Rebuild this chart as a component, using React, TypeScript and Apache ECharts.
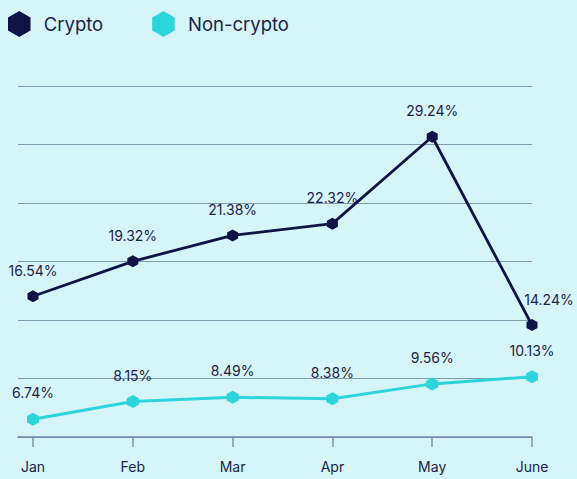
import React, { useEffect, useRef } from "react";
import * as echarts from "echarts";

const months = ["Jan", "Feb", "Mar", "Apr", "May", "June"];
const crypto = [16.54, 19.32, 21.38, 22.32, 29.24, 14.24];
const nonCrypto = [6.74, 8.15, 8.49, 8.38, 9.56, 10.13];
const seriesNames = ["Crypto", "Non-crypto"];

const HEX = "path://M0,-1 L0.866,-0.5 L0.866,0.5 L0,1 L-0.866,0.5 L-0.866,-0.5 Z";
const NAVY = "#0f1346";
const CYAN = "#2cd5dc";
const TEXT = "#1b1f4b";
const FONT = "Inter, Roboto, sans-serif";

export default function App() {
  const ref = useRef<HTMLDivElement>(null);
  useEffect(() => {
    if (!ref.current) return;
    const chart = echarts.init(ref.current, null, { renderer: "svg" });
    const last = months.length - 1;
    const mkData = (arr: number[], shiftLast: boolean) =>
      arr.map((v, i) =>
        shiftLast && i === last ? { value: v, label: { offset: [17, 0] } } : v
      );
    const labelCfg = {
      show: true,
      position: "top",
      distance: 13,
      color: TEXT,
      fontFamily: FONT,
      fontSize: 14,
      formatter: (p: any) => p.value.toFixed(2) + "%",
    };
    chart.setOption({
      animation: false,
      backgroundColor: "#d5f5f8",
      textStyle: { fontFamily: FONT },
      legend: {
        left: 3,
        top: 6,
        itemWidth: 23,
        itemHeight: 26,
        itemGap: 49,
        data: [
          { name: seriesNames[0], icon: HEX, itemStyle: { color: NAVY } },
          { name: seriesNames[1], icon: HEX, itemStyle: { color: CYAN } },
        ],
        textStyle: {
          color: TEXT,
          fontSize: 18.5,
          fontFamily: FONT,
          padding: [0, 0, 0, 8],
        },
      },
      grid: [
        { left: 18, right: 45, top: 86, bottom: 42 },
        { left: 33, right: 45, top: 86, bottom: 42 },
      ],
      xAxis: [
        {
          gridIndex: 0,
          type: "value",
          min: 0,
          max: 1,
          axisLine: { show: true, lineStyle: { color: "#7785a4", width: 1.5 } },
          axisTick: { show: false },
          axisLabel: { show: false },
          splitLine: { show: false },
        },
        {
          gridIndex: 1,
          type: "category",
          data: months,
          boundaryGap: false,
          axisLine: { show: false },
          axisTick: {
            show: true,
            length: 10,
            lineStyle: { color: "#8592ad", width: 1.5 },
          },
          axisLabel: {
            color: TEXT,
            fontSize: 14,
            fontFamily: FONT,
            margin: 22,
          },
          splitLine: { show: false },
        },
      ],
      yAxis: [
        {
          gridIndex: 0,
          type: "value",
          min: 0,
          max: 6,
          interval: 1,
          axisLine: { show: false },
          axisTick: { show: false },
          axisLabel: { show: false },
          splitLine: { show: true, lineStyle: { color: "#7e9cae", width: 1.2 } },
        },
        {
          gridIndex: 1,
          type: "value",
          min: 5.33,
          max: 33.28,
          show: false,
          splitLine: { show: false },
        },
      ],
      series: [
        {
          name: seriesNames[0],
          type: "line",
          xAxisIndex: 1,
          yAxisIndex: 1,
          data: mkData(crypto, true),
          symbol: HEX,
          symbolSize: [11, 12],
          lineStyle: { color: NAVY, width: 2.8 },
          itemStyle: { color: NAVY },
          label: labelCfg,
          z: 3,
        },
        {
          name: seriesNames[1],
          type: "line",
          xAxisIndex: 1,
          yAxisIndex: 1,
          data: mkData(nonCrypto, false),
          symbol: HEX,
          symbolSize: [12, 13],
          lineStyle: { color: CYAN, width: 3 },
          itemStyle: { color: CYAN },
          label: labelCfg,
          z: 2,
        },
      ],
    });
    return () => chart.dispose();
  }, []);
  return (
    <div
      ref={ref}
      style={{ position: "fixed", left: 0, top: 0, width: 577, height: 479 }}
    />
  );
}
